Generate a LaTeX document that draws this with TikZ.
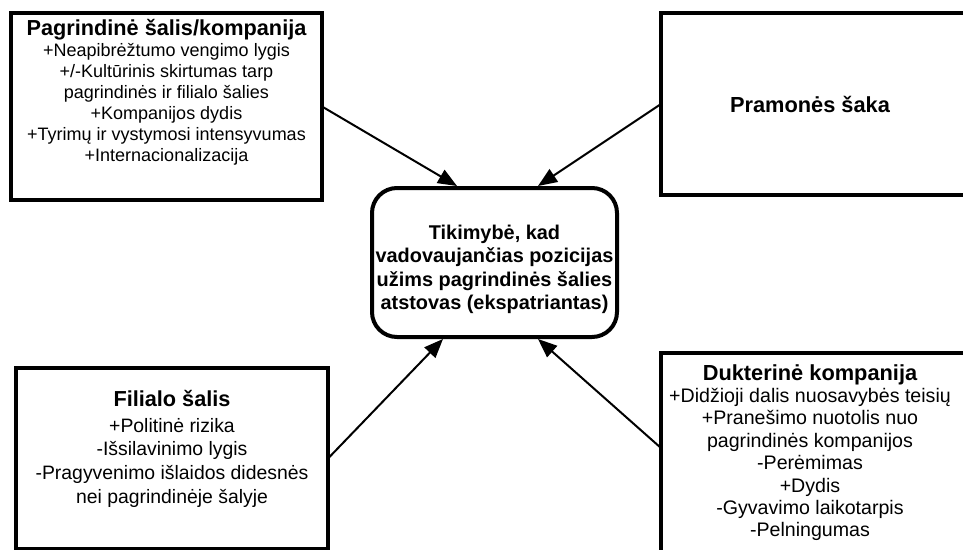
\documentclass[tikz,border=0pt]{standalone}
\usepackage{fontspec}
\setmainfont{Liberation Sans}
\usetikzlibrary{arrows.meta,positioning}

\begin{document}
\begin{tikzpicture}[x=1pt, y=-1pt, >={Triangle[length=19pt, width=15pt]},
	panel/.style={draw, line width=4pt, outer sep=0pt, inner sep=0pt},
	lead/.style={draw, line width=4pt, rounded corners=25pt, minimum width=245pt, minimum height=149pt},
	body/.style={align=center, inner sep=0pt, font=\fontsize{18}{21}\selectfont},
	link/.style={->, line width=2pt}]
	\useasboundingbox (0,0) rectangle (963,549);
	\node[panel, minimum width=311pt, minimum height=187pt] (home) at (166.5,106.5) {};
	\node[panel, minimum width=309pt, minimum height=182pt] (branch) at (815.5,104) {};
	\node[panel, minimum width=312pt, minimum height=181pt] (host) at (172,458.5) {};
	\node[panel, minimum width=324pt, minimum height=212pt] (dtr) at (823,459) {};
	\node[lead] (lead) at (494.5,262.5) {};

	\node[body, below=6pt of home.north] (homeText) {{\fontsize{21.7}{21}\bfseries Pagrindinė šalis/kompanija}\\
		+Neapibrėžtumo vengimo lygis\\ +/-Kultūrinis skirtumas tarp\\ pagrindinės ir filialo šalies\\
		+Kompanijos dydis\\ +Tyrimų ir vystymosi intensyvumas\\ +Internacionalizacija};
	\node[body, font=\fontsize{21.8}{21}\selectfont\bfseries] (branchText) at ([xshift=-5.5pt]branch.center) {Pramonės šaka};
	\node[body, font=\fontsize{19.4}{23.7}\selectfont, below=22pt of host.north] (hostText) {{\fontsize{21.7}{21}\bfseries Filialo šalis}\\[2pt]
		+Politinė rizika\\ -Išsilavinimo lygis\\ -Pragyvenimo išlaidos didesnės\\ nei pagrindinėje šalyje};
	\node[body, font=\fontsize{19.6}{22.4}\selectfont, below=11pt of dtr.north, xshift=-13pt] (dtrText) {{\fontsize{21.8}{21}\bfseries Dukterinė kompanija}\\
		+Didžioji dalis nuosavybės teisių\\ +Pranešimo nuotolis nuo\\ pagrindinės kompanijos\\
		-Perėmimas\\ +Dydis\\ -Gyvavimo laikotarpis\\ -Pelningumas};
	\node[body, font=\fontsize{19.9}{23.5}\selectfont\bfseries] (leadText) at ([yshift=-7pt]lead.center) {Tikimybė, kad\\
		vadovaujančias pozicijas\\ užims pagrindinės šalies\\ atstovas (ekspatriantas)};

	\draw[link] (home.east) -- ([xshift=-37.5pt]lead.north);
	\draw[link] (branch.west) -- ([xshift=43.5pt]lead.north);
	\draw[link] (host.east) -- ([xshift=-51.5pt]lead.south);
	\draw[link] ([yshift=11pt]dtr.west) -- ([xshift=43.5pt]lead.south);
\end{tikzpicture}
\end{document}
